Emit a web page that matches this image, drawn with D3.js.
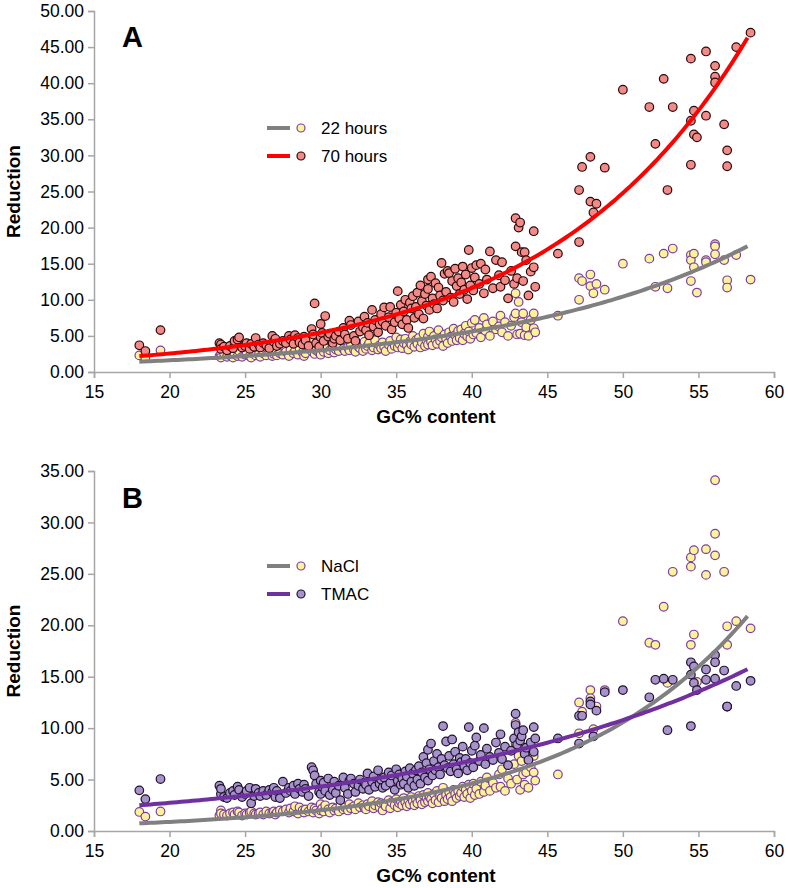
<!DOCTYPE html>
<html>
<head>
<meta charset="utf-8">
<script src="https://cdn.jsdelivr.net/npm/d3@7"></script>
<style>
  body { margin: 0; background: #fff; }
  text { font-family: Arial, "Liberation Sans", sans-serif; fill: #000; }
</style>
</head>
<body>
<svg id="chart"></svg>
<script>
// GC% content of each probe (shared by all four series)
const gcContent = [
  18.0, 18.4, 19.4, 23.3, 23.4, 23.4, 23.6, 23.8, 24.0, 24.2,
  24.3, 24.5, 24.6, 24.8, 25.0, 25.1, 25.3, 25.4, 25.6, 25.7,
  25.9, 26.0, 26.2, 26.4, 26.6, 26.8, 26.9, 27.0, 27.1, 27.3,
  27.5, 27.7, 27.9, 28.0, 28.2, 28.3, 28.5, 28.6, 28.8, 28.9,
  29.0, 29.2, 29.4, 29.5, 29.6, 29.7, 29.9, 30.0, 30.0, 30.1,
  30.2, 30.3, 30.5, 30.6, 30.8, 30.9, 31.0, 31.2, 31.3, 31.5,
  31.6, 31.8, 31.9, 32.0, 32.2, 32.3, 32.5, 32.6, 32.8, 32.9,
  33.0, 33.1, 33.2, 33.4, 33.5, 33.6, 33.8, 33.9, 34.0, 34.1,
  34.2, 34.3, 34.5, 34.6, 34.7, 34.9, 35.0, 35.1, 35.2, 35.3,
  35.4, 35.5, 35.6, 35.7, 35.8, 35.9, 36.0, 36.1, 36.2, 36.3,
  36.4, 36.5, 36.6, 36.7, 36.8, 36.9, 37.0, 37.1, 37.1, 37.2,
  37.3, 37.4, 37.5, 37.6, 37.7, 37.8, 37.9, 38.0, 38.1, 38.2,
  38.3, 38.4, 38.5, 38.6, 38.7, 38.8, 38.9, 39.0, 39.1, 39.2,
  39.3, 39.4, 39.5, 39.6, 39.7, 39.8, 39.9, 40.0, 40.1, 40.2,
  40.3, 40.5, 40.6, 40.8, 40.9, 41.0, 41.2, 41.4, 41.6, 41.8,
  41.9, 42.0, 42.2, 42.4, 42.6, 42.8, 42.9, 42.9, 43.0, 43.1,
  43.2, 43.3, 43.4, 43.5, 43.6, 43.75, 43.9, 44.1, 44.1, 44.2,
  45.7, 47.1, 47.1, 47.3, 47.85, 47.85, 48.05, 48.25, 48.8, 50.0,
  51.75, 52.15, 52.7, 52.95, 53.3, 54.5, 54.5, 54.5, 54.7, 54.7,
  54.9, 55.5, 55.5, 56.1, 56.1, 56.1, 56.7, 56.9, 56.9, 57.5,
  58.45
];

// panel A: reduction after 22 hours
const hours22 = [
  2.3, 1.9, 3.0, 2.2, 2.4, 2.0, 2.6, 2.1, 2.3, 2.0,
  2.5, 2.2, 2.9, 2.1, 2.4, 2.7, 2.2, 2.0, 2.5, 2.3,
  2.4, 2.1, 2.6, 2.3, 2.8, 2.2, 2.5, 2.9, 2.3, 2.6,
  2.4, 2.8, 2.2, 3.1, 2.6, 2.9, 2.4, 3.3, 2.7, 2.2,
  2.6, 3.4, 2.9, 4.5, 2.5, 3.0, 2.7, 3.6, 2.4, 3.2,
  2.8, 3.3, 2.6, 3.0, 3.5, 2.7, 3.1, 2.9, 3.7, 3.2,
  2.9, 3.4, 3.0, 3.8, 3.1, 2.8, 3.5, 3.3, 2.9, 4.2,
  3.2, 3.6, 4.0, 3.0, 3.4, 4.4, 3.1, 3.7, 3.3, 4.1,
  3.5, 2.9, 3.8, 4.3, 3.2, 3.6, 4.8, 3.4, 3.9, 4.5,
  3.3, 4.0, 4.6, 3.7, 3.1, 4.2, 3.8, 5.0, 3.5, 4.4,
  3.9, 4.7, 3.4, 4.1, 5.3, 3.6, 4.4, 4.9, 3.8, 5.6,
  4.2, 3.7, 5.0, 4.5, 3.9, 5.8, 4.3, 4.8, 3.6, 5.2,
  4.6, 4.0, 5.5, 4.9, 4.3, 6.0, 5.1, 4.4, 5.7, 4.7,
  5.9, 4.4, 5.3, 6.4, 4.9, 5.6, 4.6, 6.8, 5.2, 7.2,
  5.4, 6.1, 4.8, 7.5, 5.7, 6.6, 5.0, 7.0, 5.9, 6.3,
  7.8, 5.5, 6.9, 5.0, 6.4, 7.6, 10.9, 8.1, 5.2, 9.7,
  5.3, 6.9, 8.1, 5.1, 6.2, 5.0, 7.2, 8.1, 6.05, 5.5,
  7.8, 10.0, 13.0, 12.6, 13.5, 11.9, 10.9, 12.2, 11.4, 15.0,
  15.7, 11.8, 16.4, 11.6, 17.1, 16.2, 15.5, 12.6, 16.4, 14.5,
  11.0, 15.5, 15.2, 17.7, 17.4, 16.3, 15.5, 12.7, 11.7, 16.2,
  12.8
];

// panel A: reduction after 70 hours
const hours70 = [
  3.7, 2.9, 5.8, 4.0, 3.8, 3.2, 3.5, 3.0, 3.6, 3.3,
  4.3, 4.5, 4.8, 3.4, 3.6, 4.0, 3.2, 3.9, 3.5, 4.7,
  3.8, 3.4, 4.0, 3.7, 3.3, 5.0, 4.2, 4.6, 3.6, 3.9,
  4.3, 4.0, 5.0, 4.5, 3.9, 5.1, 4.7, 4.1, 3.8, 4.9,
  4.4, 3.6, 5.95, 5.2, 9.5, 4.0, 3.5, 6.65, 4.8, 5.4,
  4.3, 7.75, 4.9, 5.3, 4.0, 4.6, 5.0, 5.6, 4.4, 6.1,
  5.2, 4.6, 7.1, 6.5, 5.0, 4.3, 7.0, 5.6, 6.2, 7.65,
  5.8, 6.8, 5.1, 8.6, 6.3, 7.2, 5.5, 6.6, 8.0, 7.0,
  8.95, 6.4, 7.6, 9.0, 5.9, 6.9, 8.2, 11.2, 7.4, 9.3,
  6.6, 8.4, 10.0, 7.2, 6.1, 9.6, 8.8, 10.5, 7.5, 9.0,
  11.0, 8.0, 12.0, 9.8, 7.4, 10.8, 9.2, 12.8, 11.5, 8.6,
  13.2, 10.2, 9.4, 12.3, 8.8, 11.7, 10.6, 15.1, 9.9, 13.6,
  11.1, 14.0, 13.7, 10.3, 12.6, 9.7, 14.3, 11.9, 13.0, 10.8,
  12.4, 14.6, 11.4, 13.5, 10.1, 16.9, 12.0, 14.4, 11.3, 13.1,
  14.8, 12.2, 15.0, 10.9, 14.2, 12.8, 16.7, 11.6, 15.5, 13.4,
  11.8, 15.2, 12.7, 10.2, 14.0, 12.2, 21.3, 17.4, 13.0, 20.0,
  20.7, 16.6, 12.6, 16.6, 15.5, 10.6, 13.9, 19.5, 14.5, 11.8,
  16.4, 18.0, 25.2, 28.4, 29.8, 23.6, 22.1, 23.3, 28.3, 39.1,
  36.7, 31.6, 40.6, 25.2, 36.7, 43.4, 34.8, 28.7, 36.2, 32.9,
  32.5, 44.4, 35.5, 42.4, 40.9, 40.1, 34.3, 30.7, 28.5, 45.0,
  47.0
];

// panel B: reduction with NaCl
const nacl = [
  1.85, 1.4, 1.9, 1.5, 2.0, 1.7, 1.6, 1.5, 1.7, 1.8,
  1.6, 1.9, 1.8, 1.5, 1.7, 1.6, 1.8, 1.9, 1.7, 1.6,
  1.7, 1.8, 1.6, 1.9, 1.7, 1.8, 1.9, 1.6, 1.8, 2.0,
  1.9, 2.1, 1.8, 2.2, 1.9, 2.4, 1.7, 2.3, 2.0, 1.8,
  2.1, 1.9, 2.3, 1.8, 2.2, 2.0, 1.7, 2.6, 2.0, 2.2,
  1.9, 2.5, 2.1, 1.8, 2.3, 2.0, 2.2, 1.9, 2.4, 2.1,
  2.3, 2.0, 2.6, 2.2, 2.4, 2.1, 2.7, 2.3, 2.5, 2.2,
  2.1, 2.6, 2.4, 2.9, 2.2, 2.5, 2.8, 2.3, 2.7, 2.0,
  2.6, 2.4, 3.0, 2.2, 2.8, 2.5, 3.1, 2.3, 2.7, 2.9,
  2.5, 3.2, 2.8, 2.4, 3.0, 2.6, 3.3, 2.9, 2.5, 3.1,
  2.7, 3.4, 3.0, 2.6, 3.5, 2.8, 3.2, 3.7, 2.9, 3.3,
  3.1, 2.7, 3.6, 3.0, 3.9, 2.8, 3.4, 3.2, 4.2, 2.9,
  3.5, 3.1, 3.8, 3.3, 2.9, 4.0, 3.6, 3.2, 3.9, 3.4,
  3.7, 4.3, 3.3, 4.0, 3.6, 4.5, 3.2, 3.9, 4.6, 3.5,
  4.1, 3.6, 4.8, 3.8, 4.4, 5.2, 3.9, 4.7, 4.2, 5.5,
  4.3, 6.0, 3.9, 5.1, 4.6, 6.5, 10.5, 8.5, 5.0, 7.3,
  4.0, 6.8, 5.5, 4.5, 5.7, 4.2, 6.2, 7.3, 5.7, 4.9,
  5.5, 9.5, 12.5, 11.6, 13.7, 12.9, 9.9, 12.1, 13.7, 20.4,
  18.3, 18.1, 21.8, 14.4, 25.2, 26.6, 25.7, 18.1, 27.3, 19.1,
  14.5, 27.4, 24.9, 34.1, 28.9, 26.8, 25.2, 19.9, 18.1, 20.4,
  19.7
];

// panel B: reduction with TMAC
const tmac = [
  3.95, 3.1, 5.05, 4.4, 3.6, 4.1, 3.3, 3.2, 3.7, 3.9,
  3.5, 4.3, 4.0, 3.3, 3.6, 3.9, 4.2, 2.7, 3.4, 4.1,
  3.7, 3.4, 3.9, 3.5, 4.0, 3.8, 4.2, 3.3, 3.9, 3.2,
  4.8, 3.7, 4.2, 3.9, 4.4, 3.6, 4.6, 4.1, 3.8, 4.5,
  4.1, 3.4, 6.2, 5.9, 5.4, 4.6, 3.8, 4.9, 3.6, 4.3,
  4.7, 3.9, 5.1, 3.5, 4.0, 4.8, 3.7, 4.4, 3.0, 5.2,
  4.2, 3.6, 4.9, 5.1, 4.6, 3.8, 4.4, 5.0, 4.1, 4.7,
  4.5, 5.6, 4.0, 4.8, 5.3, 4.3, 5.9, 4.6, 5.0, 4.2,
  5.2, 4.4, 5.7, 4.7, 5.4, 4.0, 6.0, 4.9, 5.5, 4.5,
  5.1, 4.6, 5.8, 5.3, 4.2, 6.1, 4.8, 5.6, 4.4, 5.9,
  5.0, 6.3, 4.6, 5.7, 7.2, 5.2, 6.6, 7.9, 4.9, 6.0,
  8.5, 5.4, 6.8, 5.9, 7.5, 6.2, 5.5, 7.0, 10.2, 6.4,
  8.7, 6.1, 7.3, 5.8, 8.9, 6.5, 7.7, 6.0, 5.6, 7.1,
  6.7, 8.2, 6.3, 7.0, 5.9, 10.1, 6.6, 7.8, 6.2, 8.3,
  9.1, 6.8, 7.4, 10.0, 6.5, 8.0, 7.2, 6.9, 8.6, 7.6,
  9.4, 7.0, 8.2, 6.4, 7.8, 9.0, 11.4, 10.3, 8.4, 9.6,
  8.8, 9.2, 9.8, 7.5, 8.1, 6.9, 8.6, 10.1, 7.7, 9.0,
  9.0, 8.5, 11.2, 11.2, 12.6, 12.3, 9.2, 11.7, 13.5, 13.7,
  13.0, 14.7, 14.8, 9.8, 14.7, 16.4, 15.2, 10.2, 16.0, 14.4,
  13.7, 15.7, 14.7, 17.1, 16.4, 14.8, 15.6, 12.1, 12.1, 14.1,
  14.6
];

// exponential trendline coefficients y = a * exp(b * x)
const trend22 = [0.468, 0.0621];
const trend70 = [0.563, 0.0757];
const trendNaCl = [0.169, 0.0827];
const trendTMAC = [1.098, 0.0457];
const trendRange = [18.0, 58.45];

const xTicks = [15, 20, 25, 30, 35, 40, 45, 50, 55, 60];
const yTicksA = [0, 5, 10, 15, 20, 25, 30, 35, 40, 45, 50];
const yTicksB = [0, 5, 10, 15, 20, 25, 30, 35];

const svg = d3.select('#chart')
  .attr('width', 788)
  .attr('height', 888);

const styles = {
  '22 hours': { fill: '#fff39a', stroke: '#7a3fa0', line: '#808080' },
  '70 hours': { fill: '#f28a88', stroke: '#2a0808', line: '#ff0000' },
  'NaCl': { fill: '#fff39a', stroke: '#7a3fa0', line: '#808080' },
  'TMAC': { fill: '#a792c9', stroke: '#1e1230', line: '#7030a0' }
};

function drawPanel(p) {
  const x = d3.scaleLinear().domain([15, 60]).range([94, 774]);
  const y = d3.scaleLinear().domain([0, p.yMax]).range([p.bottom, p.top]);

  // axes
  const yAxis = svg.append('g')
    .attr('transform', 'translate(94,0)')
    .call(d3.axisLeft(y).tickValues(p.yTicks).tickFormat(d3.format('.2f')).tickSizeOuter(0).tickSize(6).tickPadding(4));
  const xAxis = svg.append('g')
    .attr('transform', `translate(0,${p.bottom})`)
    .call(d3.axisBottom(x).tickValues(xTicks).tickSizeOuter(0).tickSize(6).tickPadding(8));
  [xAxis, yAxis].forEach(g => {
    g.selectAll('path, line').attr('stroke', '#a6a6a6').attr('stroke-width', 1.5);
    g.selectAll('text').style('font-size', '17.5px').style('font-family', 'Arial, "Liberation Sans", sans-serif').attr('fill', '#000');
  });

  // points
  p.series.forEach(s => {
    const st = styles[s.name];
    svg.append('g').selectAll('circle')
      .data(gcContent.map((gc, i) => ({ gc, v: s.values[i] })))
      .enter()
      .append('circle')
      .attr('cx', d => x(d.gc))
      .attr('cy', d => y(d.v))
      .attr('r', 4.3)
      .attr('fill', st.fill)
      .attr('stroke', st.stroke)
      .attr('stroke-width', 1.2);
  });

  // trendlines
  const line = d3.line().x(d => x(d[0])).y(d => y(d[1]));
  p.series.forEach(s => {
    const pts = d3.range(trendRange[0], trendRange[1] + 0.001, 0.25)
      .map(g => [g, s.trend[0] * Math.exp(s.trend[1] * g)]);
    svg.append('path')
      .attr('d', line(pts))
      .attr('fill', 'none')
      .attr('stroke', styles[s.name].line)
      .attr('stroke-width', 4);
  });

  // legend
  p.series.forEach((s, i) => {
    const st = styles[s.name];
    const ly = p.legendY + i * 28;
    svg.append('line')
      .attr('x1', 267).attr('x2', 290).attr('y1', ly).attr('y2', ly)
      .attr('stroke', st.line).attr('stroke-width', 4);
    svg.append('circle')
      .attr('cx', 301).attr('cy', ly).attr('r', 4)
      .attr('fill', st.fill).attr('stroke', st.stroke).attr('stroke-width', 1.2);
    svg.append('text')
      .attr('x', 321).attr('y', ly + 6)
      .style('font-size', '17px')
      .text(s.name);
  });

  // panel letter
  svg.append('text')
    .attr('x', 122).attr('y', p.letterY)
    .style('font-size', '29px').style('font-weight', 'bold')
    .text(p.letter);

  // axis titles
  svg.append('text')
    .attr('x', 436).attr('y', p.bottom + 51)
    .attr('text-anchor', 'middle')
    .style('font-size', '19px').style('font-weight', 'bold')
    .text('GC% content');
  svg.append('text')
    .attr('transform', `translate(20,${(p.top + p.bottom) / 2}) rotate(-90)`)
    .attr('text-anchor', 'middle')
    .style('font-size', '19px').style('font-weight', 'bold')
    .text('Reduction');
}

drawPanel({
  letter: 'A', letterY: 47, top: 11, bottom: 372, yMax: 50, yTicks: yTicksA, legendY: 128,
  series: [
    { name: '22 hours', values: hours22, trend: trend22 },
    { name: '70 hours', values: hours70, trend: trend70 }
  ]
});

drawPanel({
  letter: 'B', letterY: 508, top: 471, bottom: 831, yMax: 35, yTicks: yTicksB, legendY: 566,
  series: [
    { name: 'NaCl', values: nacl, trend: trendNaCl },
    { name: 'TMAC', values: tmac, trend: trendTMAC }
  ]
});
</script>
</body>
</html>
